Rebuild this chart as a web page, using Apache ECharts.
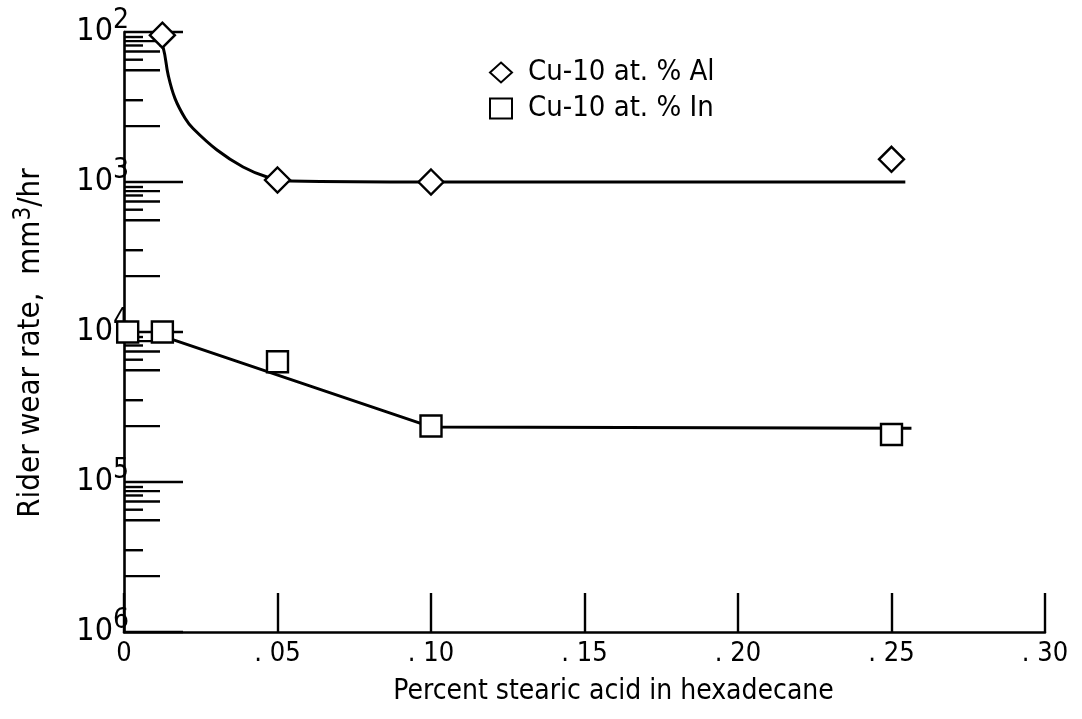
<!DOCTYPE html>
<html>
<head>
<meta charset="utf-8">
<script src="https://cdn.jsdelivr.net/npm/echarts@6/dist/echarts.min.js"></script>
<style>
  html, body { margin: 0; padding: 0; background: #fff; }
  #chart { width: 1082px; height: 719px; }
</style>
</head>
<body>
<div id="chart"></div>
<script>
// Percent stearic acid (x) against rider wear rate (log y, drawn downward)
const xTickValues = [0, 0.05, 0.10, 0.15, 0.20, 0.25, 0.30];
const xTickLabels = ['0', '. 05', '. 10', '. 15', '. 20', '. 25', '. 30'];
const yDecadeExponents = [2, 3, 4, 5, 6];
// Intermediate tick marks inside each decade (multiples of the decade value)
const minorTickFactors = [1.08, 1.15, 1.23, 1.35, 1.53, 1.8, 2.85, 4.24];
const minorTickIsLong = [false, true, false, true, false, true, false, true];

const alName = 'Cu-10 at. % Al';
const inName = 'Cu-10 at. % In';

// Measured points
const alX = [0.0125, 0.05, 0.10, 0.25];
const alY = [105, 970, 1000, 706];
const inX = [0.0012, 0.0125, 0.05, 0.10, 0.25];
const inY = [10000, 10000, 15780, 42360, 48240];

// Faired curves through the data
const alFitX = [0.0117, 0.0128, 0.0144, 0.0166, 0.0199, 0.0225, 0.0303, 0.0388, 0.0466, 0.0541, 0.1000, 0.2545];
const alFitY = [122, 128, 194, 277, 376, 440, 612, 794, 926, 985, 1000, 1000];
const inFitX = [0.0125, 0.1000, 0.2565];
const inFitY = [10650, 42950, 43800];

const FONT = "'Liberation Sans Narrow', 'DejaVu Sans Condensed', 'Noto Sans', sans-serif";
const INK = '#000';

const zip = (xs, ys) => xs.map((x, i) => [x, ys[i]]);

const minorTickData = [];
yDecadeExponents.slice(0, -1).forEach(e => {
  minorTickFactors.forEach((f, i) => {
    minorTickData.push([0, Math.pow(10, e) * f, minorTickIsLong[i] ? 1 : 0]);
  });
});

const chart = echarts.init(document.getElementById('chart'), null, { renderer: 'canvas' });

chart.setOption({
  backgroundColor: '#fff',
  animation: false,
  textStyle: { fontFamily: FONT, color: INK },
  grid: { left: 124, right: 37, top: 32, bottom: 87, containLabel: false },
  legend: {
    orient: 'vertical',
    left: 489,
    top: 58,
    itemWidth: 22,
    itemHeight: 20,
    itemGap: 7,
    padding: 0,
    selectedMode: false,
    data: [alName, inName],
    textStyle: { fontFamily: FONT, fontSize: 29, color: INK, padding: [0, 0, 0, 11] }
  },
  xAxis: {
    type: 'value',
    min: 0,
    max: 0.30,
    interval: 0.05,
    name: 'Percent stearic acid in hexadecane',
    nameLocation: 'middle',
    nameGap: 46,
    nameTextStyle: { fontFamily: FONT, fontSize: 28, color: INK, padding: [0, 0, 0, 58] },
    axisLine: { show: true, lineStyle: { color: INK, width: 2.6 } },
    axisTick: { show: true, inside: true, length: 39, lineStyle: { color: INK, width: 2.4 } },
    axisLabel: {
      margin: 8,
      fontFamily: FONT,
      fontSize: 27,
      color: INK,
      formatter: v => {
        const i = xTickValues.findIndex(t => Math.abs(t - v) < 1e-9);
        return i >= 0 ? xTickLabels[i] : '';
      }
    },
    splitLine: { show: false }
  },
  yAxis: {
    type: 'log',
    logBase: 10,
    min: Math.pow(10, yDecadeExponents[0]),
    max: Math.pow(10, yDecadeExponents[yDecadeExponents.length - 1]),
    inverse: true,
    name: 'Rider wear rate,  mm{s|3}/hr',
    nameLocation: 'middle',
    nameGap: 74,
    nameRotate: 90,
    nameTextStyle: {
      fontFamily: FONT, fontSize: 31, color: INK, padding: [0, 22, 0, 0],
      rich: {
        s: { fontFamily: FONT, fontSize: 24, color: INK, padding: [0, 0, 14, 0], verticalAlign: 'bottom' }
      }
    },
    axisLine: { show: true, lineStyle: { color: INK, width: 2.6 } },
    axisTick: { show: true, inside: true, length: 59, lineStyle: { color: INK, width: 2.4 } },
    minorTick: { show: false },
    axisLabel: {
      margin: -5,
      formatter: v => '{b|10}{s|' + Math.round(Math.log10(v)) + '}',
      rich: {
        b: { fontFamily: FONT, fontSize: 32, color: INK, verticalAlign: 'bottom', lineHeight: 32 },
        s: { fontFamily: FONT, fontSize: 28, color: INK, verticalAlign: 'bottom', lineHeight: 28, padding: [0, 0, 13, 0] }
      }
    },
    splitLine: { show: false }
  },
  series: [
    {
      // intermediate tick marks along the wear-rate axis
      type: 'custom',
      silent: true,
      clip: false,
      encode: { x: 0, y: 1 },
      data: minorTickData,
      renderItem: (params, api) => {
        const p = api.coord([api.value(0), api.value(1)]);
        const len = api.value(2) ? 36 : 19;
        return {
          type: 'line',
          shape: { x1: p[0], y1: p[1], x2: p[0] + len, y2: p[1] },
          style: { stroke: INK, lineWidth: 2.4 }
        };
      },
      z: 1
    },
    {
      type: 'line',
      data: zip(alFitX, alFitY),
      smooth: 0.4,
      showSymbol: false,
      symbol: 'none',
      lineStyle: { color: INK, width: 3 },
      silent: true,
      z: 2
    },
    {
      type: 'line',
      data: zip(inFitX, inFitY),
      showSymbol: false,
      symbol: 'none',
      lineStyle: { color: INK, width: 3 },
      silent: true,
      z: 2
    },
    {
      name: alName,
      type: 'scatter',
      data: zip(alX, alY),
      symbol: 'diamond',
      symbolSize: 25,
      itemStyle: { color: '#fff', borderColor: INK, borderWidth: 2.4, opacity: 1 },
      z: 5
    },
    {
      name: inName,
      type: 'scatter',
      data: zip(inX, inY),
      symbol: 'rect',
      symbolSize: 21,
      itemStyle: { color: '#fff', borderColor: INK, borderWidth: 2.4, opacity: 1 },
      z: 5
    }
  ]
});
</script>
</body>
</html>
